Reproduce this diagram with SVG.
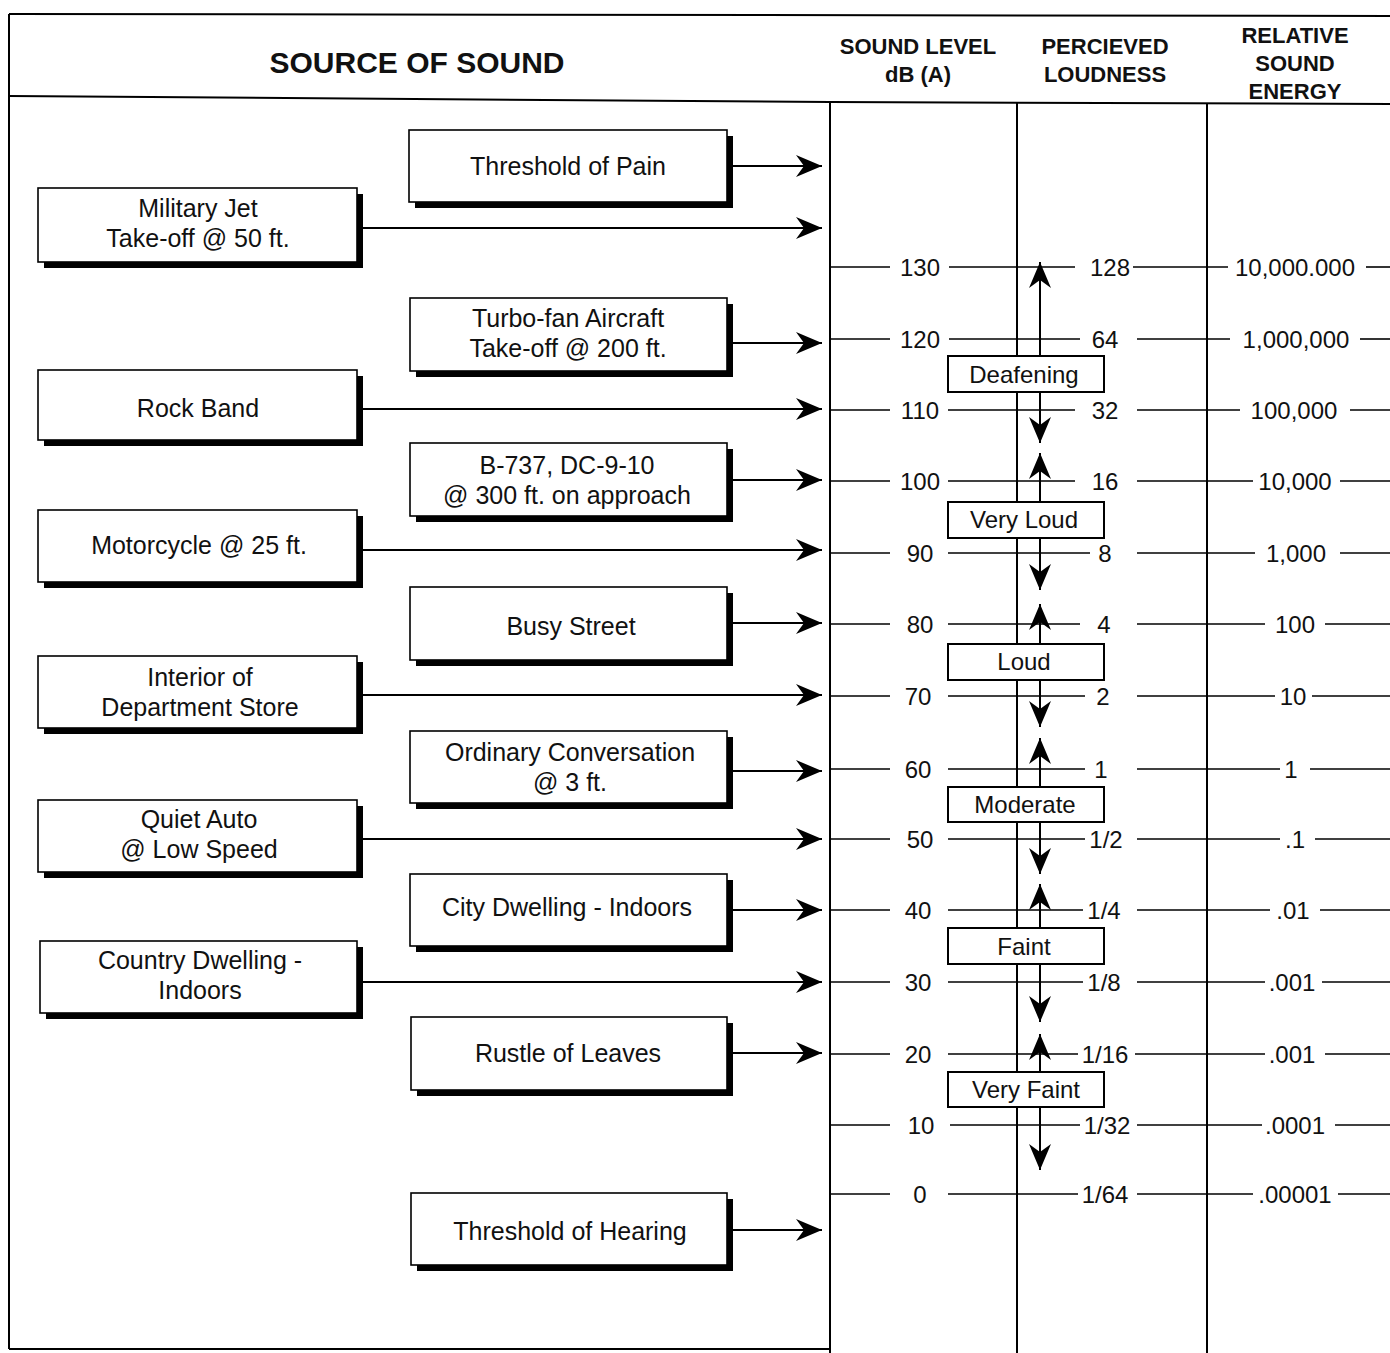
<svg xmlns="http://www.w3.org/2000/svg" width="1390" height="1353" viewBox="0 0 1390 1353">
<defs>
<style>
.frame{stroke:#000;stroke-width:2;fill:none}
.hd{font-family:"Liberation Sans",Arial,sans-serif;font-weight:bold;fill:#111;text-anchor:middle}
.bx{fill:#fff;stroke:#000;stroke-width:1.6}
.sh{fill:#000}
.bt{font-family:"Liberation Sans",Arial,sans-serif;font-size:25px;fill:#111;text-anchor:middle}
.num{font-family:"Liberation Sans",Arial,sans-serif;font-size:24px;fill:#111;text-anchor:middle}
.tick{stroke:#000;stroke-width:1.6}
.arr{stroke:#000;stroke-width:2;fill:none;marker-end:url(#ah)}
.lb{fill:#fff;stroke:#000;stroke-width:2}
</style>
<marker id="ah" viewBox="-27 -12 28 24" refX="0" refY="0" markerWidth="28" markerHeight="24" markerUnits="userSpaceOnUse" orient="auto">
<path d="M0,0 L-26,-11 L-18,0 L-26,11 Z" fill="#000"/>
</marker>
</defs>
<rect width="1390" height="1353" fill="#fff"/>

<g id="frame">
<line class="frame" x1="9" y1="14" x2="1390" y2="16"/>
<polyline class="frame" points="9,96 830,102 1390,104"/>
<line class="frame" x1="9" y1="14" x2="9" y2="1349"/>
<line class="frame" x1="9" y1="1349" x2="830" y2="1349"/>
<line class="frame" x1="830" y1="102" x2="830" y2="1353"/>
<line class="frame" x1="1017" y1="103" x2="1017" y2="1353"/>
<line class="frame" x1="1207" y1="104" x2="1207" y2="1353"/>
</g>

<g id="headers">
<text class="hd" x="417" y="73" font-size="30">SOURCE OF SOUND</text>
<text class="hd" x="918" y="54" font-size="22">SOUND LEVEL</text>
<text class="hd" x="918" y="82" font-size="22">dB (A)</text>
<text class="hd" x="1105" y="54" font-size="22">PERCIEVED</text>
<text class="hd" x="1105" y="82" font-size="22">LOUDNESS</text>
<text class="hd" x="1295" y="43" font-size="22">RELATIVE</text>
<text class="hd" x="1295" y="71" font-size="22">SOUND</text>
<text class="hd" x="1295" y="99" font-size="22">ENERGY</text>
</g>

<g id="scale">
<g class="tick">
<line x1="830" y1="267" x2="890" y2="267"/><line x1="949" y1="267" x2="1075" y2="267"/><line x1="1133" y1="267" x2="1228" y2="267"/><line x1="1366" y1="267" x2="1390" y2="267"/>
<line x1="830" y1="339" x2="890" y2="339"/><line x1="949" y1="339" x2="1080" y2="339"/><line x1="1137" y1="339" x2="1230" y2="339"/><line x1="1360" y1="339" x2="1390" y2="339"/>
<line x1="830" y1="410" x2="890" y2="410"/><line x1="948" y1="410" x2="1075" y2="410"/><line x1="1137" y1="410" x2="1240" y2="410"/><line x1="1350" y1="410" x2="1390" y2="410"/>
<line x1="830" y1="481" x2="890" y2="481"/><line x1="948" y1="481" x2="1075" y2="481"/><line x1="1137" y1="481" x2="1253" y2="481"/><line x1="1340" y1="481" x2="1390" y2="481"/>
<line x1="830" y1="553" x2="890" y2="553"/><line x1="948" y1="553" x2="1090" y2="553"/><line x1="1137" y1="553" x2="1255" y2="553"/><line x1="1340" y1="553" x2="1390" y2="553"/>
<line x1="830" y1="624" x2="890" y2="624"/><line x1="948" y1="624" x2="1080" y2="624"/><line x1="1137" y1="624" x2="1265" y2="624"/><line x1="1325" y1="624" x2="1390" y2="624"/>
<line x1="830" y1="696" x2="890" y2="696"/><line x1="948" y1="696" x2="1085" y2="696"/><line x1="1137" y1="696" x2="1275" y2="696"/><line x1="1312" y1="696" x2="1390" y2="696"/>
<line x1="830" y1="769" x2="890" y2="769"/><line x1="948" y1="769" x2="1085" y2="769"/><line x1="1137" y1="769" x2="1280" y2="769"/><line x1="1310" y1="769" x2="1390" y2="769"/>
<line x1="830" y1="839" x2="890" y2="839"/><line x1="948" y1="839" x2="1085" y2="839"/><line x1="1137" y1="839" x2="1280" y2="839"/><line x1="1315" y1="839" x2="1390" y2="839"/>
<line x1="830" y1="910" x2="890" y2="910"/><line x1="948" y1="910" x2="1083" y2="910"/><line x1="1137" y1="910" x2="1270" y2="910"/><line x1="1320" y1="910" x2="1390" y2="910"/>
<line x1="830" y1="982" x2="890" y2="982"/><line x1="948" y1="982" x2="1083" y2="982"/><line x1="1137" y1="982" x2="1265" y2="982"/><line x1="1322" y1="982" x2="1390" y2="982"/>
<line x1="830" y1="1054" x2="890" y2="1054"/><line x1="948" y1="1054" x2="1078" y2="1054"/><line x1="1135" y1="1054" x2="1265" y2="1054"/><line x1="1325" y1="1054" x2="1390" y2="1054"/>
<line x1="830" y1="1125" x2="890" y2="1125"/><line x1="950" y1="1125" x2="1080" y2="1125"/><line x1="1137" y1="1125" x2="1262" y2="1125"/><line x1="1335" y1="1125" x2="1390" y2="1125"/>
<line x1="830" y1="1194" x2="890" y2="1194"/><line x1="948" y1="1194" x2="1078" y2="1194"/><line x1="1137" y1="1194" x2="1253" y2="1194"/><line x1="1338" y1="1194" x2="1390" y2="1194"/>
</g>
<g class="num">
<text x="920" y="276">130</text><text x="1110" y="276">128</text><text x="1295" y="276">10,000.000</text>
<text x="920" y="348">120</text><text x="1105" y="348">64</text><text x="1296" y="348">1,000,000</text>
<text x="920" y="419">110</text><text x="1105" y="419">32</text><text x="1294" y="419">100,000</text>
<text x="920" y="490">100</text><text x="1105" y="490">16</text><text x="1295" y="490">10,000</text>
<text x="920" y="562">90</text><text x="1105" y="562">8</text><text x="1296" y="562">1,000</text>
<text x="920" y="633">80</text><text x="1104" y="633">4</text><text x="1295" y="633">100</text>
<text x="918" y="705">70</text><text x="1103" y="705">2</text><text x="1293" y="705">10</text>
<text x="918" y="778">60</text><text x="1101" y="778">1</text><text x="1291" y="778">1</text>
<text x="920" y="848">50</text><text x="1106" y="848">1/2</text><text x="1295" y="848">.1</text>
<text x="918" y="919">40</text><text x="1104" y="919">1/4</text><text x="1293" y="919">.01</text>
<text x="918" y="991">30</text><text x="1104" y="991">1/8</text><text x="1292" y="991">.001</text>
<text x="918" y="1063">20</text><text x="1105" y="1063">1/16</text><text x="1292" y="1063">.001</text>
<text x="921" y="1134">10</text><text x="1107" y="1134">1/32</text><text x="1295" y="1134">.0001</text>
<text x="920" y="1203">0</text><text x="1105" y="1203">1/64</text><text x="1295" y="1203">.00001</text>
</g>
</g>

<g id="connectors">
<line class="arr" x1="727" y1="166" x2="822" y2="166"/>
<line class="arr" x1="357" y1="228" x2="822" y2="228"/>
<line class="arr" x1="727" y1="343" x2="822" y2="343"/>
<line class="arr" x1="357" y1="409" x2="822" y2="409"/>
<line class="arr" x1="727" y1="480" x2="822" y2="480"/>
<line class="arr" x1="357" y1="550" x2="822" y2="550"/>
<line class="arr" x1="727" y1="623" x2="822" y2="623"/>
<line class="arr" x1="357" y1="695" x2="822" y2="695"/>
<line class="arr" x1="727" y1="771" x2="822" y2="771"/>
<line class="arr" x1="357" y1="839" x2="822" y2="839"/>
<line class="arr" x1="727" y1="910" x2="822" y2="910"/>
<line class="arr" x1="357" y1="982" x2="822" y2="982"/>
<line class="arr" x1="727" y1="1053" x2="822" y2="1053"/>
<line class="arr" x1="727" y1="1230" x2="822" y2="1230"/>
<line class="arr" x1="1040" y1="356" x2="1040" y2="262"/>
<line class="arr" x1="1040" y1="392" x2="1040" y2="443"/>
<line class="arr" x1="1040" y1="502" x2="1040" y2="453"/>
<line class="arr" x1="1040" y1="538" x2="1040" y2="590"/>
<line class="arr" x1="1040" y1="644" x2="1040" y2="604"/>
<line class="arr" x1="1040" y1="680" x2="1040" y2="727"/>
<line class="arr" x1="1040" y1="787" x2="1040" y2="738"/>
<line class="arr" x1="1040" y1="822" x2="1040" y2="874"/>
<line class="arr" x1="1040" y1="928" x2="1040" y2="884"/>
<line class="arr" x1="1040" y1="964" x2="1040" y2="1022"/>
<line class="arr" x1="1040" y1="1072" x2="1040" y2="1034"/>
<line class="arr" x1="1040" y1="1107" x2="1040" y2="1170"/>
</g>

<g id="loudness-labels">
<g id="deafening"><rect class="lb" x="948" y="356" width="156" height="36"/><text class="num" x="1024" y="383">Deafening</text></g>
<g id="very-loud"><rect class="lb" x="948" y="502" width="156" height="36"/><text class="num" x="1024" y="528">Very Loud</text></g>
<g id="loud"><rect class="lb" x="948" y="644" width="156" height="36"/><text class="num" x="1024" y="670">Loud</text></g>
<g id="moderate"><rect class="lb" x="948" y="787" width="156" height="35"/><text class="num" x="1025" y="813">Moderate</text></g>
<g id="faint"><rect class="lb" x="948" y="928" width="156" height="36"/><text class="num" x="1024" y="955">Faint</text></g>
<g id="very-faint"><rect class="lb" x="948" y="1072" width="156" height="35"/><text class="num" x="1026" y="1098">Very Faint</text></g>
</g>

<g id="n-threshold-pain"><rect class="sh" x="415" y="136" width="318" height="72"/><rect class="bx" x="409" y="130" width="318" height="72"/><text class="bt" x="568" y="175">Threshold of Pain</text></g>
<g id="n-military-jet"><rect class="sh" x="44" y="194" width="319" height="74"/><rect class="bx" x="38" y="188" width="319" height="74"/><text class="bt" x="198" y="217">Military Jet</text><text class="bt" x="198" y="247">Take-off @ 50 ft.</text></g>
<g id="n-turbo-fan"><rect class="sh" x="416" y="304" width="317" height="73"/><rect class="bx" x="410" y="298" width="317" height="73"/><text class="bt" x="568" y="327">Turbo-fan Aircraft</text><text class="bt" x="568" y="357">Take-off @ 200 ft.</text></g>
<g id="n-rock-band"><rect class="sh" x="44" y="376" width="319" height="70"/><rect class="bx" x="38" y="370" width="319" height="70"/><text class="bt" x="198" y="417">Rock Band</text></g>
<g id="n-b737"><rect class="sh" x="416" y="449" width="317" height="73"/><rect class="bx" x="410" y="443" width="317" height="73"/><text class="bt" x="567" y="474">B-737, DC-9-10</text><text class="bt" x="567" y="504">@ 300 ft. on approach</text></g>
<g id="n-motorcycle"><rect class="sh" x="44" y="516" width="319" height="72"/><rect class="bx" x="38" y="510" width="319" height="72"/><text class="bt" x="199" y="554">Motorcycle @ 25 ft.</text></g>
<g id="n-busy-street"><rect class="sh" x="416" y="593" width="317" height="73"/><rect class="bx" x="410" y="587" width="317" height="73"/><text class="bt" x="571" y="635">Busy Street</text></g>
<g id="n-department-store"><rect class="sh" x="44" y="662" width="319" height="72"/><rect class="bx" x="38" y="656" width="319" height="72"/><text class="bt" x="200" y="686">Interior of</text><text class="bt" x="200" y="716">Department Store</text></g>
<g id="n-conversation"><rect class="sh" x="416" y="737" width="317" height="72"/><rect class="bx" x="410" y="731" width="317" height="72"/><text class="bt" x="570" y="761">Ordinary Conversation</text><text class="bt" x="570" y="791">@ 3 ft.</text></g>
<g id="n-quiet-auto"><rect class="sh" x="44" y="806" width="319" height="72"/><rect class="bx" x="38" y="800" width="319" height="72"/><text class="bt" x="199" y="828">Quiet Auto</text><text class="bt" x="199" y="858">@ Low Speed</text></g>
<g id="n-city-dwelling"><rect class="sh" x="416" y="880" width="317" height="72"/><rect class="bx" x="410" y="874" width="317" height="72"/><text class="bt" x="567" y="916">City Dwelling - Indoors</text></g>
<g id="n-country-dwelling"><rect class="sh" x="46" y="947" width="317" height="72"/><rect class="bx" x="40" y="941" width="317" height="72"/><text class="bt" x="200" y="969">Country Dwelling -</text><text class="bt" x="200" y="999">Indoors</text></g>
<g id="n-rustle-leaves"><rect class="sh" x="417" y="1023" width="316" height="73"/><rect class="bx" x="411" y="1017" width="316" height="73"/><text class="bt" x="568" y="1062">Rustle of Leaves</text></g>
<g id="n-threshold-hearing"><rect class="sh" x="417" y="1199" width="316" height="72"/><rect class="bx" x="411" y="1193" width="316" height="72"/><text class="bt" x="570" y="1240">Threshold of Hearing</text></g>
</svg>
